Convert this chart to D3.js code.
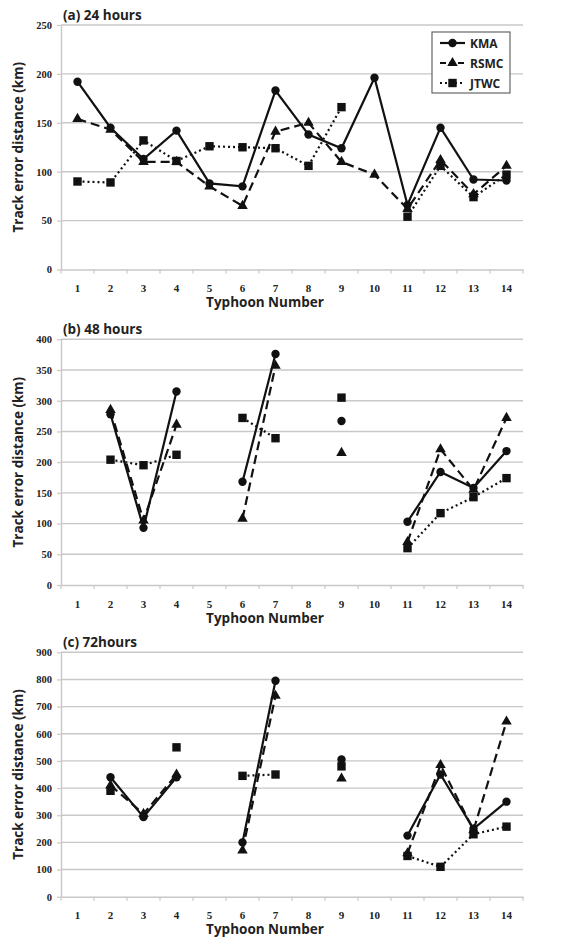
<!DOCTYPE html>
<html><head><meta charset="utf-8">
<script src="https://cdn.jsdelivr.net/npm/d3@7"></script>
<style>body{margin:0;background:#fff}svg{display:block}</style>
</head><body>
<svg id="chart" width="571" height="941"></svg>
<script>
const typhoons = [1,2,3,4,5,6,7,8,9,10,11,12,13,14];
const seriesNames = ["KMA","RSMC","JTWC"];

const kma24  = [192,145,113,142,88,85,183,138,124,196,66,145,92,91];
const rsmc24 = [154,143,110,110,85,65,141,150,110,97,62,112,77,106];
const jtwc24 = [90,89,132,111,126,125,124,106,166,null,54,106,74,97];

const kma48  = [null,278,93,315,null,168,376,null,267,null,103,184,158,218];
const rsmc48 = [null,285,105,261,null,108,357,null,215,null,70,221,155,272];
const jtwc48 = [null,204,195,212,null,272,239,null,305,null,60,117,143,174];

const kma72  = [null,440,293,440,null,200,795,null,505,null,225,450,250,350];
const rsmc72 = [null,410,305,450,null,170,740,null,435,null,160,485,245,645];
const jtwc72 = [null,390,null,550,null,445,450,null,480,null,150,110,230,258];

const yTicks24 = [0,50,100,150,200,250];
const yTicks48 = [0,50,100,150,200,250,300,350,400];
const yTicks72 = [0,100,200,300,400,500,600,700,800,900];

const panelTitles = ["(a) 24 hours","(b) 48 hours","(c) 72hours"];
const xTitle = "Typhoon Number";
const yTitle = "Track error distance (km)";

const panels = [
  {title: panelTitles[0], data: [kma24,rsmc24,jtwc24], ticks: yTicks24, top: 25, bottom: 269.5, legend: true},
  {title: panelTitles[1], data: [kma48,rsmc48,jtwc48], ticks: yTicks48, top: 339.3, bottom: 585},
  {title: panelTitles[2], data: [kma72,rsmc72,jtwc72], ticks: yTicks72, top: 652.3, bottom: 896.7}
];

const styles = [
  {dash: null, marker: "circle"},
  {dash: "9,5", marker: "triangle"},
  {dash: "2,3", marker: "square"}
];

const svg = d3.select("#chart");
const left = 61, right = 523;
const x = d3.scaleBand().domain(typhoons).range([left, right]).padding(0);
const cx = d => x(d) + x.bandwidth()/2;
const gridColor = "#c8c8c8";
const serif = "'Liberation Serif', 'DejaVu Serif', serif";
const sans = "'Open Sans', 'Noto Sans', sans-serif";

function marker(g, type, px, py){
  if (type === "circle") {
    g.append("circle").attr("cx", px).attr("cy", py).attr("r", 4.2).attr("fill", "#111");
  } else if (type === "triangle") {
    g.append("path").attr("d", d3.symbol().type(d3.symbolTriangle).size(48)()).attr("transform", `translate(${px},${py})`).attr("fill", "#111");
  } else {
    g.append("rect").attr("x", px-4.2).attr("y", py-4.2).attr("width", 8.4).attr("height", 8.4).attr("fill", "#111");
  }
}

panels.forEach(p => {
  const maxV = p.ticks[p.ticks.length-1];
  const y = d3.scaleLinear().domain([0, maxV]).range([p.bottom, p.top]);
  const g = svg.append("g");

  g.selectAll(".grid").data(p.ticks.filter(t => t > 0)).join("line")
    .attr("x1", left).attr("x2", right).attr("y1", d => y(d)).attr("y2", d => y(d))
    .attr("stroke", gridColor).attr("stroke-width", 1.4);

  const yAxis = d3.axisLeft(y).tickValues(p.ticks).tickSize(4).tickSizeOuter(0).tickPadding(5);
  const ya = g.append("g").attr("transform", `translate(${left},0)`).call(yAxis);
  ya.select(".domain").attr("stroke", gridColor).attr("stroke-width", 1.4);
  ya.selectAll(".tick line").attr("stroke", gridColor).attr("stroke-width", 1.2);
  ya.selectAll(".tick text").attr("font-family", serif).attr("font-weight", "bold").attr("font-size", 10.5).attr("fill", "#222");

  const xAxis = d3.axisBottom(x).tickSize(0).tickPadding(15);
  const xa = g.append("g").attr("transform", `translate(0,${p.bottom})`).call(xAxis);
  xa.select(".domain").attr("stroke", gridColor).attr("stroke-width", 1.4);
  xa.selectAll(".tick text").attr("font-family", serif).attr("font-weight", "bold").attr("font-size", 11).attr("fill", "#222");
  g.selectAll(".xb").data(typhoons.concat([null])).join("line")
    .attr("x1", (d,i) => left + i*x.bandwidth()).attr("x2", (d,i) => left + i*x.bandwidth())
    .attr("y1", p.bottom).attr("y2", p.bottom + 4)
    .attr("stroke", gridColor).attr("stroke-width", 1.2);

  g.append("text").attr("x", 63).attr("y", p.top - 5).text(p.title)
    .attr("font-family", sans).attr("font-weight", "bold").attr("font-size", 13.5).attr("fill", "#222");
  g.append("text").attr("x", 265).attr("y", p.bottom + 37.5).attr("text-anchor", "middle").text(xTitle)
    .attr("font-family", sans).attr("font-weight", "bold").attr("font-size", 13.5).attr("fill", "#222");
  const ymid = (p.top + p.bottom)/2;
  g.append("text").attr("transform", `translate(23,${ymid}) rotate(-90)`).attr("text-anchor", "middle").text(yTitle)
    .attr("font-family", sans).attr("font-weight", "bold").attr("font-size", 13.5).attr("fill", "#222");

  p.data.forEach((vals, si) => {
    const pts = typhoons.map((t, i) => ({t, v: vals[i]}));
    const line = d3.line().defined(d => d.v !== null).x(d => cx(d.t)).y(d => y(d.v));
    const path = g.append("path").attr("d", line(pts)).attr("fill", "none")
      .attr("stroke", "#111").attr("stroke-width", 2.2);
    if (styles[si].dash) path.attr("stroke-dasharray", styles[si].dash);
    pts.filter(d => d.v !== null).forEach(d => marker(g, styles[si].marker, cx(d.t), y(d.v)));
  });

  if (p.legend) {
    const lg = g.append("g");
    lg.append("rect").attr("x", 432).attr("y", 32).attr("width", 78).attr("height", 61)
      .attr("fill", "#fff").attr("stroke", "#666").attr("stroke-width", 1.2);
    seriesNames.forEach((name, si) => {
      const ly = 43 + si*20;
      const ln = lg.append("line").attr("x1", 440).attr("x2", 465).attr("y1", ly).attr("y2", ly)
        .attr("stroke", "#111").attr("stroke-width", 2.2);
      if (styles[si].dash) ln.attr("stroke-dasharray", si === 1 ? "6,3" : "2,3");
      marker(lg, styles[si].marker, 452.5, ly);
      lg.append("text").attr("x", 470).attr("y", ly + 4.5).text(name)
        .attr("font-family", sans).attr("font-weight", "bold").attr("font-size", 12).attr("fill", "#222");
    });
  }
});
</script>
</body></html>
